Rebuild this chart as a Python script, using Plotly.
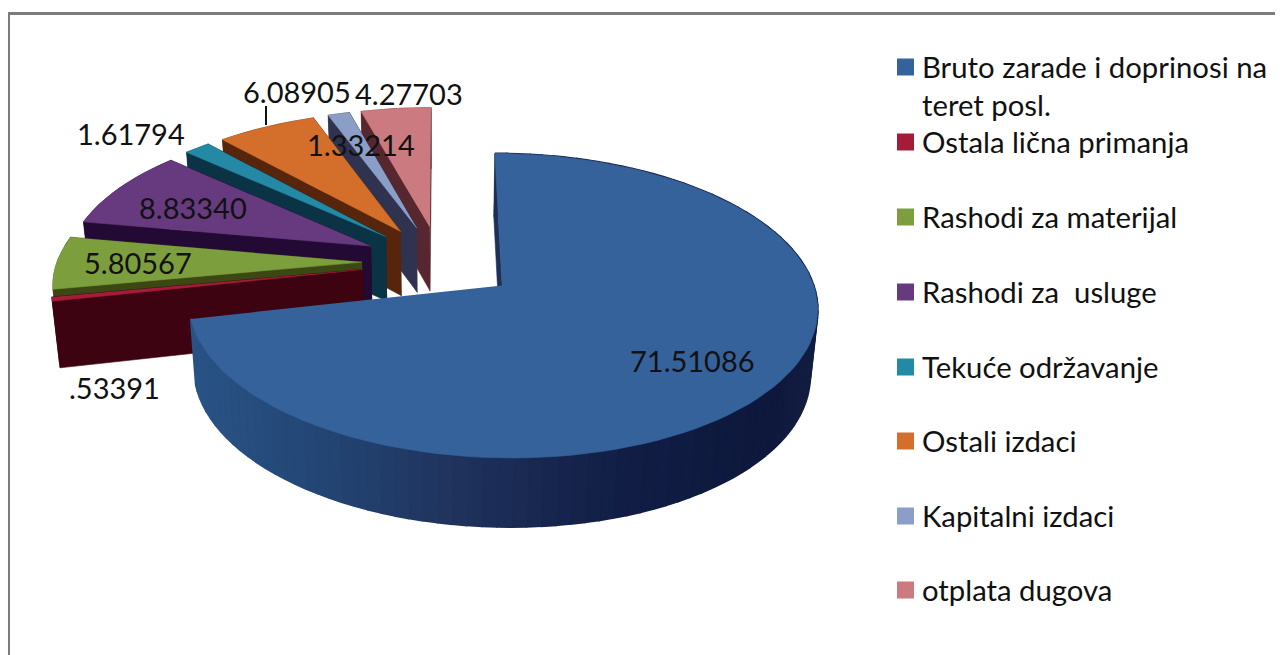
import numpy as np
import plotly.graph_objects as go

# ---- data ----
categories = ["Bruto zarade i doprinosi na<br>teret posl.", "Ostala lična primanja", "Rashodi za materijal",
              "Rashodi za  usluge", "Tekuće održavanje", "Ostali izdaci", "Kapitalni izdaci", "otplata dugova"]
values = [71.51086, 0.53391, 5.80567, 8.83340, 1.61794, 6.08905, 1.33214, 4.27703]

# ---- style ----
top_colors = ["#36629c", "#a51c3a", "#7c9e3c", "#673a80", "#2389a4", "#d46e2b", "#8a9ec8", "#cb7a7f"]
wall_colors = ["#1f3058", "#3e0310", "#3b4814", "#230a34", "#0a3445", "#56250c", "#2f3350", "#572730"]
wall_ramp = [(190, (42, 84, 134)), (300, (36, 72, 120)), (450, (32, 52, 94)), (620, (18, 30, 70)),
             (770, (14, 24, 60)), (817, (18, 30, 66))]
label_pos = [(692, 360), (114, 387), (138, 262), (193, 207), (131, 133), (297, 91), (361, 144), (409, 93)]
legend_y = [67, 142, 217, 292, 367, 441, 516, 590]
FONT = "Lato"
X0, Y0, R, EXPLODE, K, P, H, P2, XS = 440, 262, 305, 78, 0.47, 0.000428, 65, 0.000163, 0.98
PAGE_MARGIN = 8  # the browser's default body margin


def project(a, b, lower=False):
    a, b = np.asarray(a, float), np.asarray(b, float)
    w = 1 + P * b
    x, y = X0 + a / w, Y0 - K * b / w
    if lower:
        x = X0 + (x - X0) * XS
        y = y + H / (1 + P2 * b)
    return x, y


def poly(x, y, color, lw=0.6):
    return go.Scatter(x=list(x), y=list(y), mode="lines", fill="toself", fillcolor=color,
                      line=dict(color=color, width=lw), hoverinfo="skip", showlegend=False)


def ramp(x):
    xs = [p[0] for p in wall_ramp]
    c = [np.interp(x, xs, [p[1][i] for p in wall_ramp]) for i in range(3)]
    return "rgb(%d,%d,%d)" % tuple(c)


fig = go.Figure()
total = sum(values)
edges = np.concatenate([[0], np.cumsum(values)]) / total * 2 * np.pi

# paint the slices back to front: the big slice goes last
for i in list(range(len(values) - 1, 0, -1)) + [0]:
    t0, t1 = edges[i], edges[i + 1]
    mid = (t0 + t1) / 2
    ax, bx = EXPLODE * np.sin(mid), EXPLODE * np.cos(mid)
    th = np.linspace(t0, t1, max(8, int((t1 - t0) * 24)))
    ao, bo = ax + R * np.sin(th), bx + R * np.cos(th)
    xo, yo = project(ao, bo)
    xl, yl = project(ao, bo, True)
    xa, ya = project(ax, bx)
    xal, yal = project(ax, bx, True)
    # radial walls
    fig.add_trace(poly([xa, xo[0], xl[0], xal], [ya, yo[0], yl[0], yal], wall_colors[i]))
    if i != 0:
        fig.add_trace(poly([xa, xo[-1], xl[-1], xal], [ya, yo[-1], yl[-1], yal], wall_colors[i]))
        fig.add_trace(poly(list(xo) + list(xl[::-1]), list(yo) + list(yl[::-1]), wall_colors[i]))
    else:
        for j in range(len(th) - 1):
            xs = [xo[j], xo[j + 1], xl[j + 1], xl[j]]
            ys = [yo[j], yo[j + 1], yl[j + 1], yl[j]]
            fig.add_trace(poly(xs, ys, ramp((xo[j] + xo[j + 1]) / 2), lw=2))
    # top face
    fig.add_trace(poly([xa] + list(xo), [ya] + list(yo), top_colors[i]))

annotations = []
for v, (lx, ly) in zip(values, label_pos):
    txt = f"{v:.5f}"
    if txt.startswith("0."):
        txt = txt[1:]
    annotations.append(dict(x=lx, y=ly, text=txt, showarrow=False, xanchor="center", yanchor="middle",
                            font=dict(family=FONT, size=29, color="#111111")))

# legend
fig.add_trace(go.Scatter(x=[905.5] * len(values), y=legend_y, mode="markers", hoverinfo="skip", showlegend=False,
                         marker=dict(symbol="square", size=17, color=top_colors, line=dict(width=0))))
for name, ly in zip(categories, legend_y):
    parts = name.split("<br>")
    for k, part in enumerate(parts):
        annotations.append(dict(x=920, y=ly - 1 + 38 * k, text=part, showarrow=False, xanchor="left", yanchor="middle",
                                font=dict(family=FONT, size=29.3, color="#111111")))

shapes = [
    dict(type="line", x0=8.5, x1=8.5, y0=13, y1=655, line=dict(color="#7f7a7d", width=3)),
    dict(type="line", x0=8, x1=1283, y0=13.5, y1=13.5, line=dict(color="#7f7a7d", width=3)),
    dict(type="line", x0=266, x1=266, y0=106, y1=125, line=dict(color="#111111", width=2)),
]

fig.update_layout(
    width=1283 - PAGE_MARGIN, height=655 - PAGE_MARGIN, margin=dict(l=0, r=0, t=0, b=0), autosize=False,
    paper_bgcolor="white", plot_bgcolor="white", showlegend=False,
    xaxis=dict(range=[PAGE_MARGIN, 1283], visible=False, fixedrange=True),
    yaxis=dict(range=[655, PAGE_MARGIN], visible=False, fixedrange=True),
    annotations=annotations, shapes=shapes,
)
fig.write_html("out.html", config={"displayModeBar": False})
